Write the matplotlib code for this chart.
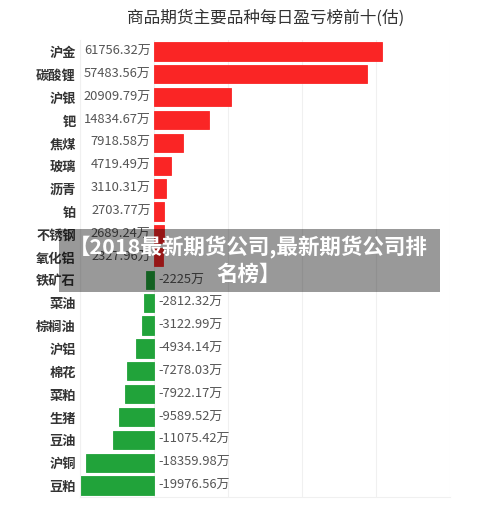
import matplotlib
matplotlib.use('Agg')
import matplotlib.pyplot as plt
from matplotlib.patches import Rectangle

plt.rcParams['font.family'] = ['Noto Sans CJK SC', 'DejaVu Sans']

# 品种和每日盈亏（万）
categories = ['沪金', '碳酸锂', '沪银', '钯', '焦煤', '玻璃', '沥青', '铂', '不锈钢', '氧化铝',
              '铁矿石', '菜油', '棕榈油', '沪铝', '棉花', '菜粕', '生猪', '豆油', '沪铜', '豆粕']
values = [61756.32, 57483.56, 20909.79, 14834.67, 7918.58, 4719.49, 3110.31, 2703.77, 2689.24, 2327.96,
          -2225, -2812.32, -3122.99, -4934.14, -7278.03, -7922.17, -9589.52, -11075.42, -18359.98, -19976.56]
x_ticks = [-20000, 0, 20000, 40000, 60000, 80000]

title = '商品期货主要品种每日盈亏榜前十(估)'
watermark = '【2018最新期货公司,最新期货公司排\n名榜】'

red = '#fa2525'
green = '#21a33a'


def fmt(v):
    s = ('%.2f' % v).rstrip('0').rstrip('.')
    return s + '万'


fig = plt.figure(figsize=(5, 5.21), dpi=100)
ax = fig.add_axes([0.16, 0.0461, 0.74, 0.877])

pos = list(range(len(categories)))
colors = [red if v > 0 else green for v in values]
ax.barh(pos, values, height=0.8, color=colors, edgecolor=colors, linewidth=0.6, zorder=2)

for p, v in zip(pos, values):
    if v > 0:
        ax.annotate(fmt(v), (0, p), xytext=(-2.5, 0), textcoords='offset points',
                    ha='right', va='center', fontsize=9.3, color='#555555', zorder=3)
    else:
        ax.annotate(fmt(v), (0, p), xytext=(3, 0), textcoords='offset points',
                    ha='left', va='center', fontsize=9.3, color='#555555', zorder=3)

ax.set_xlim(x_ticks[0], x_ticks[-1])
ax.set_ylim(len(categories) - 0.5, -0.5)
ax.set_xticks(x_ticks)
ax.set_xticklabels([])
ax.set_yticks(pos)
ax.set_yticklabels(categories, fontsize=9.5, fontweight='bold', color='#333333')
ax.tick_params(axis='both', length=0)
ax.tick_params(axis='y', pad=3)
ax.grid(axis='x', color='#f0f0f0', linewidth=0.8, zorder=0)
for side in ['top', 'right']:
    ax.spines[side].set_visible(False)
for side in ['left', 'bottom']:
    ax.spines[side].set_color('#f0f0f0')
    ax.spines[side].set_linewidth(0.8)

fig.text(0.532, 1 - 18 / 521, title, ha='center', va='center', fontsize=12, color='#333333')

# 水印
fig.patches.append(Rectangle((0.118, 0.4395), 0.762, 0.121, transform=fig.transFigure,
                             facecolor='black', alpha=0.4, edgecolor='none', zorder=10))
fig.text(0.497, 0.4395 + 0.0605, watermark, ha='center', va='center', fontsize=15.5,
         fontweight='bold', color='white', linespacing=1.3, zorder=11)

fig.savefig('out.png', dpi=100)
